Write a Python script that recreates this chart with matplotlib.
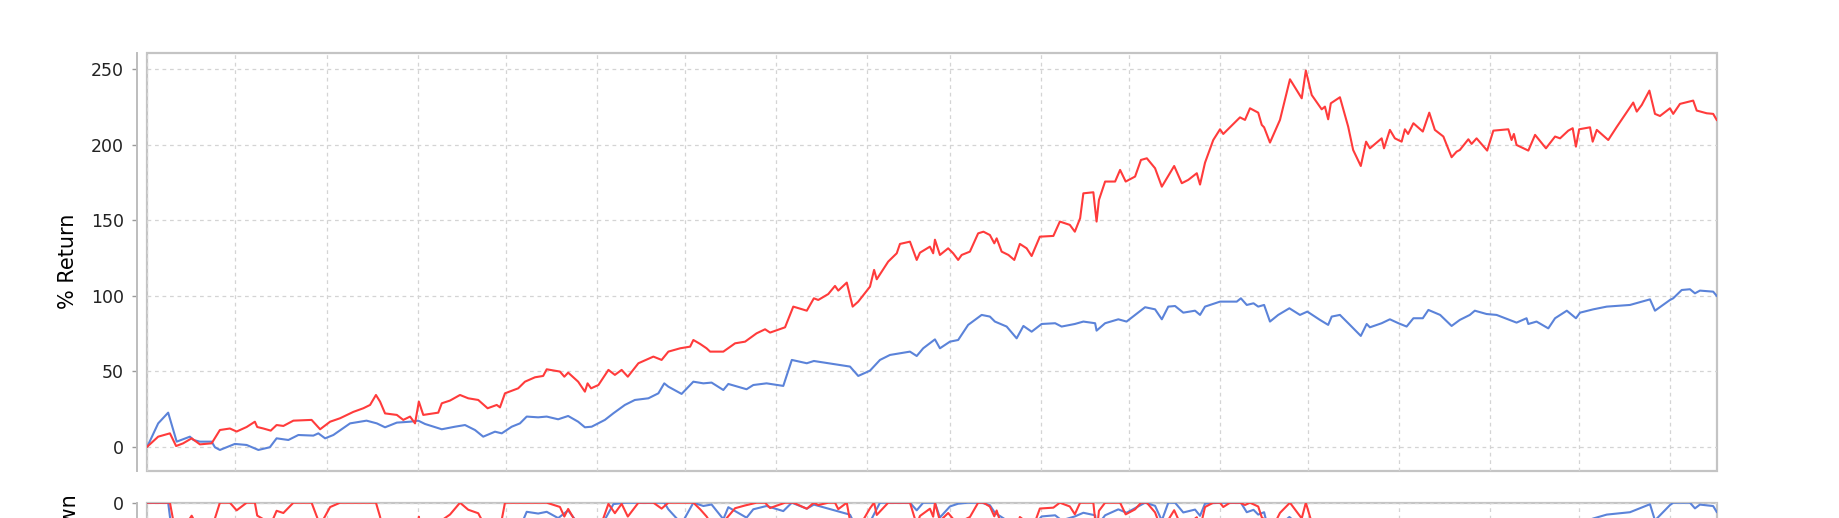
import numpy as np
import pandas as pd
import matplotlib
matplotlib.use('Agg')
import matplotlib.pyplot as plt
import matplotlib.dates as mdates

# Days since start, cumulative % return
start = pd.Timestamp('2013-06-01')

strategy_days = [
    0, 3.7, 7.7, 9.8, 12.2, 15.1, 17.9, 21.9, 24.7, 28.1,
    30.4, 33.8, 36.6, 37.4, 39.5, 42.0, 44.0, 46.3, 49.7, 55.9,
    58.8, 62.2, 65.6, 70.1, 73.5, 75.8, 77.8, 79.2, 80.9, 84.9,
    87.1, 89.4, 91.1, 92.4, 93.9, 99.0, 100.2, 103.0, 106.4, 109.2,
    112.6, 115.8, 118.9, 120.0, 121.7, 126.2, 128.5, 131.9, 134.7, 135.9,
    140.4, 141.9, 143.2, 146.6, 148.9, 149.8, 151.0, 153.5, 156.9, 159.1,
    161.4, 163.5, 167.1, 172.2, 175.0, 177.3, 181.3, 184.7, 185.8, 188.1,
    190.3, 191.5, 196.0, 200.0, 203.4, 207.3, 210.2, 211.9, 217.0, 219.8,
    224.4, 226.8, 228.3, 231.7, 234.0, 235.1, 238.0, 240.0, 241.9, 245.9,
    247.3, 248.2, 252.1, 255.0, 256.1, 259.5, 261.8, 262.9, 266.3, 267.4,
    268.0, 269.7, 272.5, 274.2, 275.9, 277.1, 279.9, 282.7, 284.5, 286.7,
    288.2, 289.0, 290.7, 293.0, 295.0, 296.9, 299.2, 300.9, 303.7, 308.3,
    310.5, 313.9, 315.6, 317.4, 318.5, 321.9, 323.0, 323.8, 325.9, 329.3,
    331.0, 332.9, 336.1, 338.1, 340.1, 342.9, 345.2, 349.4, 352.0, 354.2,
    357.1, 358.2, 359.9, 362.7, 365.0, 366.1, 368.4, 371.8, 373.5, 375.2,
    378.0, 379.2, 380.0, 382.0, 385.4, 388.8, 392.8, 394.2, 396.2, 399.6,
    400.7, 401.8, 402.7, 405.8, 408.6, 410.3, 412.9, 414.7, 416.0, 420.0,
    420.8, 422.8, 424.5, 426.8, 427.9, 429.0, 430.8, 434.0, 436.2, 438.1,
    441.0, 443.8, 445.5, 446.6, 449.5, 450.6, 452.3, 455.9, 458.0, 463.1,
    464.2, 465.0, 465.9, 469.9, 472.2, 475.9, 479.0, 480.7, 483.5, 485.0,
    486.1, 487.2, 490.9, 491.8, 493.2, 497.1, 499.9, 505.6, 506.8, 508.5,
    511.1, 513.0, 514.7, 518.1, 519.2, 521.5, 526.0, 527.2, 530.6, 532.8,
    534.0]
strategy_return = [
    0, 6.6, 8.8, 0.4, 2.2, 5.5, 1.5, 2.2, 11, 12,
    10, 13, 16.5, 13, 12, 10.6, 14.3, 13.7, 17.2, 17.7,
    11.5, 16.5, 18.8, 23, 25.4, 27.6, 34.2, 29.8, 22, 21,
    17.7, 19.9, 15.4, 29.8, 21, 22.5, 28.7, 30.5, 34.2, 32,
    30.9, 25.4, 27.6, 26, 35.3, 38.6, 43, 45.9, 46.8, 51.2,
    49.7, 46.3, 49, 43, 36.4, 41.9, 38.6, 40.8, 50.8, 47.5,
    50.8, 46.3, 55.2, 59.6, 57.4, 62.9, 65.1, 66.2, 70.6, 68,
    65.1, 62.9, 62.9, 68.4, 69.5, 75, 77.7, 75.5, 79, 92.7,
    90, 98.2, 97.1, 101, 106.4, 103.3, 108.6, 92.7, 96, 105.9,
    117, 110.8, 122.5, 128, 134.2, 135.7, 123.6, 128.4, 132.4, 128,
    137, 126.9, 131.3, 128, 123.6, 126.9, 129.1, 141.2, 142.3, 140.1,
    134.6, 137.9, 129.1, 126.9, 123.6, 134.2, 131.3, 126.2, 139, 139.5,
    149, 146.8, 142.3, 151.2, 167.7, 168.4, 149, 163.3, 175.5, 175.5,
    183.2, 175.5, 178.8, 189.8, 190.9, 184.3, 172.1, 185.8, 174.4, 176.6,
    181, 173.5, 188, 203, 210.1, 207, 211.4, 218, 216.3, 224,
    221.1, 213, 211.4, 201.3, 216.3, 243.2, 230.6, 249, 232.8, 223.3,
    225.1, 216.7, 227.3, 231.3, 211.9, 196.4, 185.8, 201.9, 197.5, 204.1,
    197.5, 209.7, 204.1, 201.9, 210.1, 207, 214.1, 208.6, 221.1, 209.7,
    205.3, 191.6, 195.3, 196.4, 203.5, 200.4, 204.1, 196, 209.2, 210.1,
    203, 207, 199.7, 196, 206.4, 197.5, 205.3, 204.1, 209.2, 210.8,
    198.6, 210.1, 211.4, 201.9, 209.7, 203, 211.4, 227.8, 221.8, 226.2,
    235.7, 220.3, 218.9, 224, 220.3, 226.9, 229.1, 222.5, 220.7, 220.3,
    216.3]

benchmark_days = [
    0, 3.7, 7.1, 10.0, 14.5, 15.7, 17.9, 21.9, 23.0, 24.7,
    29.8, 33.8, 37.8, 41.7, 44.0, 48.0, 51.4, 56.5, 58.2, 60.5,
    63.3, 69.0, 74.6, 78.1, 80.9, 84.9, 89.4, 92.2, 94.5, 100.2,
    104.7, 108.1, 111.5, 114.3, 118.3, 120.6, 124.0, 126.8, 129.1, 133.0,
    135.9, 139.8, 143.2, 146.6, 148.9, 151.2, 155.7, 158.6, 162.5, 165.9,
    170.5, 173.9, 175.9, 177.3, 181.8, 185.8, 189.2, 192.0, 196.0, 197.7,
    203.9, 206.2, 210.7, 216.4, 219.3, 224.4, 226.8, 233.4, 239.1, 241.9,
    245.9, 249.3, 252.7, 259.5, 261.8, 264.0, 268.0, 269.7, 273.1, 275.9,
    279.3, 283.9, 286.7, 288.4, 292.4, 295.8, 298.1, 300.9, 304.3, 308.9,
    311.1, 315.6, 318.5, 322.5, 323.0, 325.9, 330.4, 333.2, 339.5, 342.9,
    345.2, 347.4, 349.7, 352.5, 356.5, 358.2, 359.9, 365.0, 370.7, 372.1,
    374.1, 376.4, 378.0, 380.0, 382.0, 384.8, 388.6, 392.2, 394.7, 399.0,
    401.8, 403.0, 405.8, 409.2, 412.9, 414.9, 416.0, 420.0, 422.8, 425.7,
    428.5, 430.8, 434.0, 435.9, 439.9, 443.8, 446.6, 450.0, 451.7, 455.7,
    459.1, 465.9, 469.3, 469.9, 472.7, 476.7, 479.0, 483.0, 486.1, 487.5,
    492.0, 496.6, 504.5, 511.3, 513.0, 518.1, 519.2, 522.1, 524.9, 526.6,
    528.3, 532.8, 534.0]
benchmark_return = [
    0, 15.4, 22.5, 3.3, 6.6, 4.4, 3.3, 3.3, -0.4, -2.2,
    1.8, 1.1, -2.2, -0.4, 5.5, 4.4, 7.7, 7.3, 8.8, 5.5,
    7.7, 15.4, 17.2, 15.4, 12.8, 15.9, 16.5, 17.2, 15, 11.5,
    13.2, 14.3, 11, 6.6, 9.9, 8.8, 13.2, 15.4, 19.9, 19.4,
    19.9, 18.1, 20.3, 16.5, 12.8, 13.2, 17.7, 22.1, 27.6, 30.9,
    32, 35.3, 41.9, 39.7, 34.9, 43, 41.9, 42.4, 37.5, 41.5,
    38, 40.8, 41.9, 40.2, 57.4, 55.2, 56.7, 54.7, 53, 46.8,
    50.3, 57.4, 60.7, 62.9, 60, 65.1, 71, 65.1, 69.5, 70.6,
    80.6, 87.2, 86.1, 82.8, 79.5, 71.7, 79.9, 76.1, 81.2, 81.7,
    79.5, 81.2, 82.8, 81.7, 76.8, 81.7, 84.3, 82.8, 92.3, 90.9,
    84.3, 92.7, 93.1, 88.7, 90, 87.2, 92.7, 96, 96, 98.2,
    93.8, 94.9, 92.7, 93.8, 82.8, 87.2, 91.6, 87.2, 89.4, 83.9,
    80.6, 86.1, 87.2, 80.6, 73.3, 81.2, 79, 81.7, 84.3, 81.7,
    79.5, 85, 85, 90.5, 87.2, 79.9, 83.9, 87.2, 90, 87.8,
    87.2, 82.1, 85, 81.2, 82.8, 78.3, 85, 90, 85, 88.7,
    90.9, 92.7, 93.8, 97.5, 90, 97.1, 98.2, 103.7, 104.2, 101.5,
    103.3, 102.6, 99.8]

red = '#ff3b3b'
blue = '#5b83d9'
grid_col = '#d4d4d4'
frame_col = '#c4c4c4'


def to_dates(days):
    return start + pd.to_timedelta(np.asarray(days), unit='D')


def drawdown(ret):
    eq = 1 + np.asarray(ret) / 100.0
    return (eq / np.maximum.accumulate(eq) - 1) * 100


s_dates = to_dates(strategy_days)
b_dates = to_dates(benchmark_days)
end = start + pd.Timedelta(days=534)

W, H = 1840, 518
fig = plt.figure(figsize=(W / 100, H / 100), dpi=100)
left, right = 147.3, 1716.7
ax = fig.add_axes([left / W, 1 - 470.5 / H, (right - left) / W, (470.5 - 52.7) / H])
# drawdown panel runs off the bottom edge, as in the original screenshot
ax_dd = fig.add_axes([left / W, 1 - 592.7 / H, (right - left) / W, 90 / H], sharex=ax)


def style(a):
    a.patch.set_edgecolor(frame_col)
    a.patch.set_linewidth(1.6)
    for side in ['top', 'right', 'bottom']:
        a.spines[side].set_visible(False)
    a.spines['left'].set_position(('outward', 7.2))
    a.spines['left'].set_color('#bdbdbd')
    a.spines['left'].set_linewidth(1.4)
    a.tick_params(axis='y', length=3.5, width=1, color='#9a9a9a', pad=6,
                  labelsize=12.5, labelcolor='#222222')
    a.tick_params(axis='x', length=0, labelbottom=False)
    a.xaxis.set_major_locator(mdates.MonthLocator())
    a.grid(True, color=grid_col, linestyle=(0, (3, 3)), linewidth=0.9)
    a.set_axisbelow(True)


for a in (ax, ax_dd):
    style(a)

ax.plot(b_dates, benchmark_return, color=blue, lw=1.5)
ax.plot(s_dates, strategy_return, color=red, lw=1.5)
ax.set_ylim(-15.8, 260.8)
ax.set_yticks([0, 50, 100, 150, 200, 250])
ax.set_xlim(start, end)
ax.set_ylabel('% Return', fontsize=15)
ax.yaxis.set_label_coords(-0.044, 0.5)

ax_dd.plot(b_dates, drawdown(benchmark_return), color=blue, lw=1.5)
ax_dd.plot(s_dates, drawdown(strategy_return), color=red, lw=1.5)
ax_dd.set_ylim(-21, 0)
ax_dd.set_yticks([0])
ax_dd.set_ylabel('Drawdown', fontsize=15)
ax_dd.yaxis.set_label_coords(-0.044, 0.5)

fig.savefig('out.png', dpi=100)
